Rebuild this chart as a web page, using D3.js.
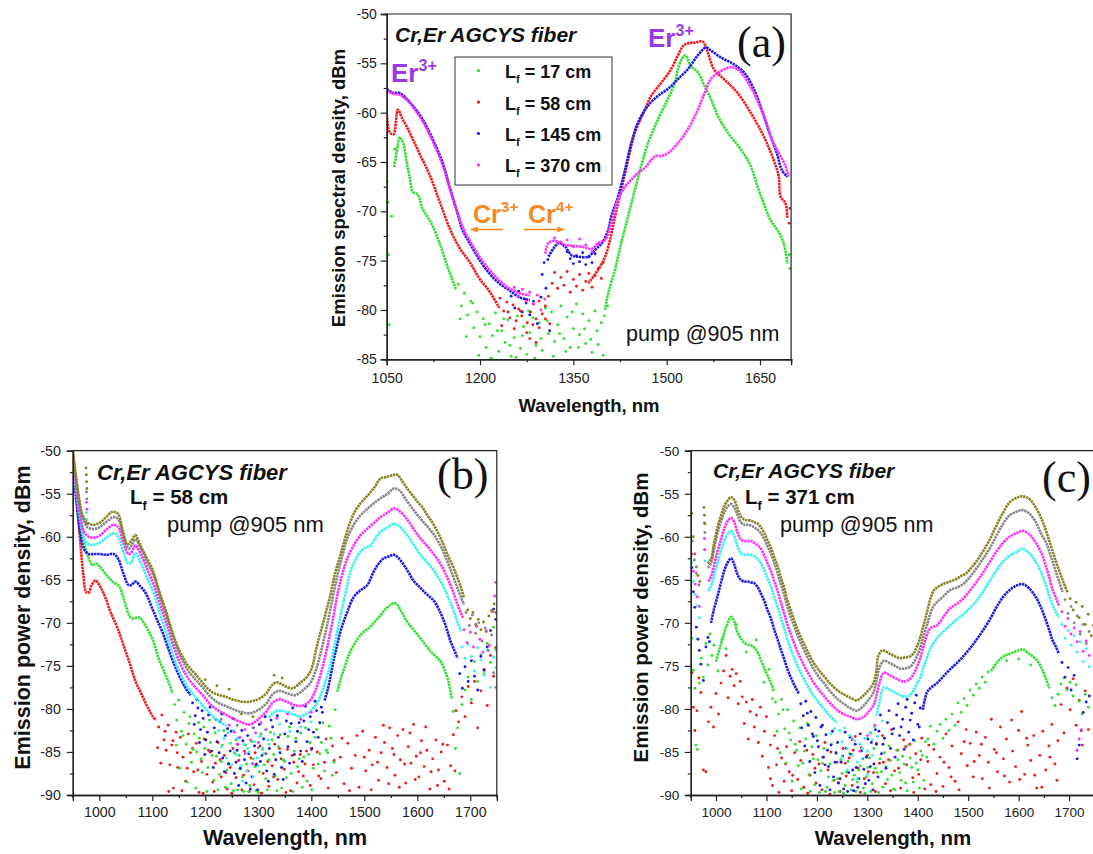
<!DOCTYPE html>
<html>
<head>
<meta charset="utf-8">
<script src="https://cdn.jsdelivr.net/npm/d3@7"></script>
<style>
  body { margin: 0; background: #fff; }
  svg { font-family: "Liberation Sans", Arial, sans-serif; }
</style>
</head>
<body>
<svg id="fig" width="1093" height="854"></svg>
<script>
// ---------- panel (a): Cr,Er AGCYS fiber, four fibre lengths ----------
const aLegend = ['17', '58', '145', '370'];

const aGreenLines = [
  [[1062,-65.5],[1066,-64],[1071,-62.5],[1077,-63.2],[1082,-65],[1087,-66.6],[1092,-68],[1100,-68.3],[1108,-69.8],[1116,-70.6],[1124,-71.5],[1135,-73.2],[1146,-75.3],[1154,-76.7],[1162,-78]],
  [[1401,-80],[1406,-78.3],[1417,-75.9],[1427,-73.2],[1438,-70.5],[1449,-67.8],[1459,-65.4],[1470,-63.1],[1486,-60.7],[1502,-58.6],[1513,-57],[1518,-55.6],[1524,-54.6],[1530,-54.2],[1539,-55.3],[1550,-55.9],[1561,-57.3],[1571,-58.6],[1582,-60.3],[1598,-62],[1619,-63.7],[1635,-65.4],[1646,-67.5],[1656,-69.2],[1667,-70.9],[1678,-71.9],[1688,-73.2],[1694,-75.3]]
];
const aGreenDots = [[1050,-65.2],[1051,-67],[1052,-69.1],[1053,-74.4],[1054,-81.5],[1058,-70.5],[1063,-63.7],
  [1165,-77.4],[1170,-79.6],[1175,-78.3],[1180,-80.5],[1185,-79.1],[1190,-81.8],[1195,-80.2],[1200,-82.7],[1205,-80.9],[1210,-83.8],[1215,-81.4],[1220,-82.6],[1225,-80.3],[1230,-84.2],[1235,-82.1],[1240,-83.3],[1245,-81],[1250,-84.7],[1255,-82.8],[1260,-80.6],[1265,-83.9],[1270,-81.7],[1275,-84.5],[1280,-82.3],[1285,-80.8],[1290,-83.6],[1295,-81.3],[1300,-84.1],[1305,-79.8],[1310,-82.4],[1315,-80.2],[1320,-83.2],[1325,-81.5],[1330,-79.6],[1335,-82.9],[1340,-80.7],[1345,-83.8],[1350,-81.9],[1355,-79.4],[1360,-82.5],[1365,-80.4],[1370,-83.4],[1375,-81.1],[1380,-84.3],[1385,-80.1],[1390,-83.5],[1395,-81.3],[1400,-80.6],[1405,-79.6],
  [1168,-80.9],[1178,-82.7],[1188,-79.3],[1198,-84.6],[1208,-81.5],[1218,-84.9],[1228,-82.1],[1238,-80.9],[1248,-83.6],[1258,-84.8],[1268,-82.6],[1278,-80.1],[1288,-84.9],[1298,-82.9],[1308,-81.1],[1318,-84.7],[1328,-82.4],[1338,-84.2],[1348,-80.2],[1358,-83.8],[1368,-81.9],[1378,-83],[1388,-82.1],[1398,-84.6],
  [1697,-74.4],[1698,-75.8]];

const aRedLines = [
  [[1050,-60.2],[1055,-62],[1061,-62.2],[1068,-59.7],[1075,-60.6],[1082,-61.4],[1092,-62.7],[1103,-64.2],[1119,-66.3],[1135,-69],[1151,-71.7],[1167,-73.7],[1183,-75.1],[1199,-76.8],[1215,-78.1],[1231,-79.8]],
  [[1374,-77.3],[1390,-75.9],[1401,-74.6],[1409,-72.9],[1417,-70.5],[1427,-67.8],[1438,-64.8],[1449,-62],[1465,-59.7],[1475,-58.3],[1491,-57],[1507,-55.6],[1518,-54.2],[1529,-53.1],[1545,-52.9],[1558,-52.8],[1566,-53.9],[1576,-55.6],[1592,-56.6],[1614,-58],[1635,-60],[1656,-62.4],[1672,-64.8],[1680,-66.4],[1683,-68.5],[1691,-69.2],[1694,-70.7]]
];
const aRedDots = [[1232,-78.8],[1238,-80.1],[1243,-79.2],[1248,-80.8],[1253,-79.5],[1258,-81.1],[1262,-79.9],[1267,-80.6],[1272,-78.9],[1276,-81.3],[1281,-80.2],[1286,-79.4],[1290,-80.9],[1295,-79.1],[1300,-80.4],[1305,-79.6],[1310,-78.6],[1312,-81.4],[1290,-83.3],[1280,-82.9],
  [1235,-81.6],[1245,-80.2],[1255,-81.9],[1265,-80.1],[1275,-82.3],[1285,-81.5],[1295,-81.8],[1305,-80.9],
  [1316,-77.3],[1320,-76.2],[1325,-77.8],[1330,-76.7],[1335,-77.5],[1340,-76.1],[1345,-78.2],[1350,-76.9],[1355,-77.6],[1360,-76.4],[1365,-78],[1370,-77.1],[1375,-76.3],[1380,-77.7],[1385,-76.5],[1390,-75.8],[1395,-76.8],[1398,-75.2],
  [1697,-71.2],[1698,-69.7]];

const aBlueLines = [
  [[1050,-57.6],[1061,-58],[1071,-58],[1082,-58.6],[1092,-59.3],[1108,-60.7],[1124,-62.7],[1140,-65.1],[1151,-67.5],[1162,-69.8],[1172,-71.9],[1183,-73.2],[1199,-74.9],[1215,-76.3],[1231,-77.3],[1247,-78],[1263,-78.7],[1280,-79]],
  [[1310,-74.6],[1320,-73.6],[1327,-73.2],[1337,-73.6],[1348,-74.5],[1358,-74.6],[1374,-74.6],[1385,-73.9],[1396,-73.2],[1406,-71.9],[1411,-70.5],[1422,-68.5],[1433,-65.8],[1443,-63.1],[1454,-61],[1470,-59.3],[1486,-58.3],[1502,-57.6],[1518,-56.6],[1534,-55.6],[1550,-54.2],[1563,-53.4],[1571,-53.7],[1587,-54.4],[1608,-55.1],[1624,-55.9],[1640,-57.6],[1656,-60.3],[1667,-62.4],[1677,-64.1],[1685,-65.8],[1694,-66.5]]
];
const aBlueDots = [[1250,-78.6],[1256,-79.8],[1262,-78.1],[1268,-80.2],[1274,-79.3],[1280,-80.5],[1286,-79.1],[1292,-81.4],[1298,-78.7],[1300,-76.4],[1303,-75.2],[1306,-77.8],[1309,-74.9],[1312,-82.1],
  [1340,-74.1],[1345,-74.8],[1350,-75.3],[1355,-74.5],[1360,-75.1],[1365,-74.2],[1370,-75.4],[1375,-74.6],[1380,-75.2],[1385,-74.3]];

const aMagentaLines = [
  [[1050,-57.8],[1061,-58.1],[1071,-58.2],[1082,-58.7],[1092,-59.4],[1108,-60.9],[1124,-62.9],[1140,-65.3],[1151,-67.6],[1162,-69.8],[1172,-71.6],[1183,-72.9],[1199,-74.6],[1215,-75.9],[1231,-77],[1247,-77.8],[1263,-78.3],[1280,-78.5]],
  [[1305,-74.3],[1310,-73.2],[1320,-73],[1335,-73.4],[1350,-73.5],[1365,-73.6],[1380,-73.8],[1390,-73.2],[1401,-72.9],[1411,-71.2],[1422,-68.8],[1433,-67.5],[1443,-66.8],[1454,-66.1],[1465,-65.6],[1475,-64.8],[1483,-64.4],[1491,-64.4],[1502,-64.1],[1518,-63.1],[1534,-61.7],[1550,-59.7],[1561,-58],[1571,-56.6],[1587,-55.8],[1603,-55.4],[1614,-55.6],[1624,-56.3],[1640,-58],[1656,-60.3],[1672,-63.1],[1683,-64.4],[1691,-65.4],[1696,-66.5]]
];
const aMagentaDots = [[1255,-77.7],[1262,-78.6],[1268,-77.9],[1274,-79.1],[1280,-78.2],[1286,-79.4],[1292,-78.5],[1298,-80],[1304,-78.9],
  [1320,-72.7],[1330,-73.1],[1340,-72.9],[1350,-73.6],[1360,-72.8],[1370,-73.4],[1380,-74.1],[1390,-73.3]];

// ---------- panel (b): L_f = 58 cm ----------
const bRedLines = [
  [[950,-50.2],[954,-53],[958,-56],[962,-59],[966,-62],[970,-64.5],[975,-66.4],[980,-66.5],[985,-65.7],[990,-65.2],[994,-65.1],[1000,-65.6],[1006,-66.3],[1013,-67.3],[1019,-68.4],[1025,-69.3],[1031,-70.1],[1038,-71.2],[1044,-72.3],[1050,-73.4],[1057,-74.6],[1063,-75.8],[1069,-76.9],[1076,-77.8],[1082,-78.6],[1088,-79.4],[1094,-80.1],[1100,-80.8],[1107,-81.3]]
];
const bRedDots = [[1112,-82.1],[1118,-80.7],[1122,-83.6],[1126,-84.8],[1130,-81.9],[1133,-86.5],[1137,-84.2],[1140,-89.2],[1145,-82.7],[1148,-86.8],[1153,-83.3],[1158,-85.6],[1163,-88.4],[1168,-82.9],[1172,-85.1],[1178,-87.3],[1183,-84],[1188,-89.7],[1193,-86.1],[1198,-83.5],[1203,-87.6],[1209,-85],[1214,-88.5],[1219,-86.3],[1224,-83.9],[1230,-87.9],[1236,-85.4],[1241,-89.3],[1247,-86.8],[1252,-84.6],[1258,-88],[1263,-86],[1269,-89.4],[1274,-84.9],[1280,-87.2],[1286,-85.7],[1292,-88.8],[1297,-86.4],[1303,-84.3],[1309,-87.5],[1314,-85.2],[1320,-89],[1326,-86.6],[1331,-84.1],[1337,-88.2],[1343,-85.8],[1349,-87],[1355,-84.7],[1361,-89.5],[1367,-86.2],[1373,-88.6],[1379,-85.3],[1385,-87.8],[1391,-84.9],[1398,-88.9],[1404,-86.5],[1411,-85],[1418,-88.1],[1425,-86.2],[1432,-89.2],[1440,-84.3],[1447,-87.4],[1455,-85.6],[1462,-88.7],[1469,-84],[1476,-86.9],[1483,-85.4],[1490,-89.1],[1497,-82.6],[1503,-87.2],[1509,-84.8],[1515,-86.5],[1521,-83.3],[1527,-88.3],[1532,-85.1],[1538,-83.9],[1543,-86.8],[1548,-82.2],[1553,-84.6],[1558,-87.7],[1563,-83.1],[1568,-85.9],[1573,-82.4],[1578,-88.6],[1583,-84.4],[1588,-86.3],[1593,-81.8],[1598,-85.5],[1603,-87.9],[1608,-83.7],[1613,-86.7],[1618,-84.8],[1624,-89.3],[1629,-85.8],[1635,-83.6],[1640,-87.1],[1645,-85],[1651,-88.4],[1657,-84.2],[1663,-86.6],[1668,-83],[1673,-80.2],[1678,-81.5],[1684,-78.6],[1690,-80.9],[1696,-77.4],[1702,-79.3],[1708,-76.8],[1714,-82.2],[1720,-77.9],[1726,-75.4],[1732,-79.6],[1738,-73.8],[1744,-76.2],[1748,-72.9],
  [1110,-84.5],[1116,-86.3],[1124,-82.6],[1131,-89.6],[1139,-83.7],[1147,-85.1],[1156,-89.5],[1166,-86.9],[1176,-84.6],[1186,-87.1],[1196,-89.8],[1206,-84.8],[1217,-89.6],[1228,-85.9],[1239,-87.4],[1250,-89.8],[1261,-84.1],[1272,-87.7],[1283,-89.6],[1294,-85.1],[1306,-89.8],[1318,-86.1],[1329,-87.9],[1340,-84.6],[1352,-89.7],[1364,-85.4],[1376,-87.3],[1388,-86.4],[1400,-84.7],[1414,-87.8],[1428,-83.5],[1443,-86],[1458,-83.4],[1472,-89.5],[1486,-83.1],[1500,-85.6],[1513,-89.4],[1525,-86.2],[1536,-81.9],[1546,-88.7],[1556,-85.3],[1566,-89.1],[1576,-86.4],[1586,-82.8],[1596,-88.2],[1606,-85.1],[1616,-82.1],[1626,-87.3],[1638,-88.9],[1648,-84.1],[1660,-89.3],[1671,-87.2]];

const bGreenLines = [
  [[955,-53.5],[960,-56],[966,-58.5],[972,-60.8],[980,-62.5],[987,-63.3],[994,-63.1],[1000,-63.4],[1013,-64.4],[1025,-65.2],[1038,-65.8],[1044,-66.8],[1050,-68],[1057,-69.2],[1063,-69.5],[1070,-69.4],[1076,-69.4],[1082,-69.8],[1088,-70.4],[1095,-71.2],[1101,-72],[1107,-73.1],[1113,-74.3],[1120,-75.3],[1126,-76.2],[1132,-77.1],[1138,-78.2]],
  [[1449,-78],[1455,-76.6],[1462,-75.3],[1468,-74.2],[1474,-73.3],[1483,-72.3],[1493,-71.4],[1502,-70.9],[1512,-70.4],[1521,-69.8],[1531,-69.1],[1540,-68.4],[1550,-67.9],[1556,-67.7],[1562,-67.9],[1571,-68.8],[1581,-69.9],[1593,-70.8],[1606,-71.8],[1616,-72.6],[1625,-73.3],[1635,-73.9],[1644,-74.5],[1651,-75.4],[1657,-76.4],[1661,-77.5],[1665,-78.8]]
];
const bGreenDots = [[1142,-79.5],[1146,-81.3],[1150,-79],[1155,-82.6],[1160,-80.4],[1164,-84.1],[1169,-81.7],[1174,-86.2],[1179,-82.9],[1184,-85],[1189,-83.4],[1194,-87.4],[1199,-84.6],[1205,-86.8],[1210,-83.9],[1216,-88.3],[1221,-85.5],[1227,-87.6],[1232,-84.2],[1238,-89.1],[1244,-86.3],[1249,-88.7],[1255,-85.1],[1261,-89.4],[1266,-87],[1272,-89.6],[1278,-86.4],[1284,-88.9],[1290,-85.8],[1296,-89.5],[1302,-87.3],[1308,-84.7],[1314,-88.1],[1320,-85.9],[1326,-83.6],[1332,-87.8],[1338,-84.4],[1344,-89.2],[1350,-86.1],[1356,-83.2],[1362,-87.5],[1368,-84.9],[1374,-86.7],[1380,-82.8],[1386,-85.6],[1392,-88.4],[1398,-83.9],[1404,-86.9],[1410,-82.4],[1416,-85.2],[1422,-81.6],[1428,-84.8],[1434,-82],[1440,-87.7],[1445,-80.1],
  [1145,-84.2],[1152,-86.9],[1158,-83.1],[1166,-88.5],[1171,-80.9],[1177,-84.7],[1182,-89.2],[1187,-81.6],[1192,-85.8],[1197,-82.1],[1203,-89.6],[1208,-81.3],[1213,-85.4],[1219,-82.8],[1224,-89.4],[1230,-86.1],[1235,-82.5],[1241,-87.1],[1247,-84],[1253,-89.5],[1258,-83.6],[1264,-85.4],[1270,-87.9],[1276,-84.2],[1282,-89.6],[1288,-83.8],[1294,-86.7],[1300,-89.7],[1305,-82.9],[1311,-86.5],[1317,-89.4],[1323,-82.7],[1329,-85.3],[1335,-89.5],[1341,-83],[1347,-85.9],[1353,-88],[1359,-82.1],[1365,-89.6],[1371,-83.4],[1377,-85.8],[1383,-89.1],[1389,-82.2],[1395,-85.3],[1401,-89.4],[1407,-83.3],[1413,-86.4],[1419,-83.9],[1425,-87.2],[1431,-85.1],[1437,-83.4],[1443,-86.2],
  [1668,-80.3],[1672,-84.6],[1676,-82.2],[1680,-87.5],[1684,-79.5],[1690,-77.8],[1696,-76.3],[1702,-78.9],[1708,-74.5],[1714,-76.8],[1720,-73.7],[1726,-75.9],[1732,-72.4],[1738,-74.6],[1744,-70.5],[1748,-73.1]];

const bBlueLines = [
  [[950,-51.8],[957,-56],[964,-59.5],[971,-61.4],[980,-62],[990,-62],[1000,-62],[1013,-62.1],[1027,-62],[1036,-62.6],[1045,-64.2],[1055,-65.6],[1061,-65.6],[1068,-65.2],[1078,-65.8],[1088,-66.6],[1101,-68.5],[1110,-69.8],[1120,-71.2],[1129,-72.8],[1138,-74.3],[1151,-76.2],[1162,-77.5],[1172,-78.4]],
  [[1425,-79],[1430,-78],[1437,-76],[1443,-74.1],[1449,-72.5],[1455,-71],[1462,-69.7],[1468,-68.7],[1480,-67],[1493,-66.2],[1506,-65.6],[1515,-64.4],[1525,-63.3],[1537,-62.5],[1546,-62.3],[1556,-62.1],[1565,-62.5],[1575,-63.3],[1585,-64.3],[1594,-65.2],[1604,-65.8],[1613,-66.4],[1622,-66.9],[1632,-67.5],[1642,-68.6],[1651,-69.9],[1657,-71],[1663,-72.2],[1670,-73.2],[1676,-74.1]]
];
const bBlueDots = [[976,-58.5],[1176,-79.3],[1181,-80.8],[1186,-79.9],[1191,-82.4],[1196,-81.1],[1201,-83.6],[1206,-80.7],[1212,-84.9],[1217,-82.2],[1222,-83.8],[1228,-81.5],[1233,-85.7],[1238,-83.1],[1244,-86.4],[1249,-82.6],[1255,-87.5],[1260,-84.8],[1266,-86.9],[1271,-83.7],[1277,-88.6],[1282,-85.2],[1288,-87.9],[1293,-84.3],[1299,-89.4],[1304,-86.1],[1310,-83.5],[1316,-87.2],[1321,-84.6],[1327,-82.1],[1333,-85.9],[1338,-83.3],[1344,-86.8],[1350,-82.9],[1356,-84.4],[1362,-81.7],[1368,-85.3],[1374,-82.6],[1380,-84.9],[1386,-81.4],[1392,-83.8],[1398,-80.9],[1404,-82.7],[1410,-80.2],[1416,-81.6],[1421,-80.4],
  [1179,-81.8],[1184,-78.9],[1189,-83.9],[1194,-80.2],[1199,-85.3],[1204,-82.7],[1209,-79.8],[1215,-86.8],[1220,-81.2],[1226,-85.1],[1231,-80.6],[1236,-87.3],[1242,-82.3],[1247,-84.9],[1252,-81.1],[1258,-86.2],[1263,-88.9],[1269,-82.5],[1274,-85.9],[1280,-83.1],[1285,-89.3],[1291,-82.2],[1296,-86.5],[1302,-81.8],[1307,-85.4],[1313,-80.9],[1319,-88.4],[1324,-81.3],[1330,-87.6],[1336,-80.8],[1341,-85.1],[1347,-88.2],[1353,-81.4],[1359,-86.3],[1365,-79.9],[1371,-83.8],[1377,-81.6],[1383,-86.1],[1389,-79.7],[1395,-82.4],[1401,-84.6],[1407,-79.1],[1413,-83.3],[1419,-79.8],
  [1680,-75.9],[1685,-77.6],[1690,-75.1],[1696,-76.8],[1702,-74.4],[1708,-76.2],[1714,-77.8],[1720,-73.9],[1726,-75.5],[1732,-72.8],[1738,-70.9],[1744,-68.4],[1748,-69.6]];

const bCyanLines = [
  [[950,-51.3],[957,-55],[964,-58.2],[971,-60.2],[980,-60.9],[990,-60.9],[1000,-60.7],[1013,-60.1],[1027,-59.6],[1036,-60],[1045,-61.7],[1055,-63.1],[1061,-62.9],[1068,-61.9],[1078,-63],[1090,-64.7],[1103,-66.6],[1115,-69],[1128,-71.5],[1140,-73.9],[1153,-75.9],[1166,-77.4],[1180,-78.5],[1195,-79.6],[1210,-80.6],[1225,-81.4],[1240,-82]],
  [[1320,-81],[1335,-80.2],[1350,-80.3],[1365,-80.6],[1380,-80.9],[1395,-80.4],[1408,-79.6],[1418,-78.4],[1428,-76.5],[1436,-74.9],[1443,-72.8],[1449,-71],[1455,-69.2],[1461,-67.5],[1468,-65.6],[1474,-64],[1483,-62.7],[1493,-61.7],[1502,-61.3],[1512,-61],[1521,-60.2],[1531,-59.4],[1544,-58.9],[1556,-58.5],[1566,-58.8],[1581,-59.8],[1593,-60.9],[1606,-62.1],[1619,-63],[1632,-64],[1641,-64.9],[1651,-66],[1660,-67.3],[1669,-68.7],[1676,-69.9],[1682,-71]]
];
const bCyanDots = [[976,-57.2],[976.5,-58],[1225,-82.5],[1235,-83.4],[1243,-82.8],[1248,-84],[1253,-82.5],[1258,-85.3],[1263,-83.4],[1268,-86.6],[1273,-84.1],[1278,-87.2],[1283,-85],[1288,-86.3],[1293,-83.8],[1298,-85.7],[1303,-83.2],[1308,-84.5],[1313,-82.4],[1318,-83.6],
  [1230,-84.4],[1240,-85.7],[1250,-86.5],[1260,-83.4],[1270,-88.4],[1280,-84.6],[1290,-87.9],[1300,-86.6],[1310,-85.2],[1320,-84.1],[1330,-82.9],[1340,-81.8],[1360,-82.6],[1380,-82.1],[1400,-81.5],
  [1684,-72.8],[1690,-74.1],[1696,-72.5],[1702,-73.9],[1708,-75.6],[1714,-72.9],[1720,-74.3],[1726,-76.1],[1732,-73.2],[1738,-77.5],[1744,-74],[1748,-75.2]];

const bMagentaLines = [
  [[950,-50.8],[957,-54.5],[964,-57.5],[971,-59.4],[980,-60],[990,-60.1],[1000,-59.9],[1013,-59.2],[1027,-58.6],[1036,-58.9],[1045,-60.6],[1055,-62],[1061,-61.8],[1068,-61],[1078,-62],[1090,-63.7],[1103,-65.6],[1115,-67.9],[1128,-70.3],[1140,-72.7],[1153,-74.8],[1166,-76.3],[1180,-77.4],[1195,-78.4],[1210,-79.5],[1225,-80.2],[1240,-80.7],[1255,-81.2],[1270,-81.6],[1285,-81.8],[1300,-81.2],[1315,-80.3],[1327,-79.3],[1340,-78.9],[1355,-79.2],[1370,-79.6],[1385,-79.6],[1398,-79],[1408,-77.8],[1418,-75.9],[1428,-73.4],[1440,-69.8],[1450,-66.5],[1460,-64],[1468,-62.5],[1480,-61],[1493,-59.8],[1505,-59.1],[1518,-58.4],[1531,-57.7],[1544,-57.2],[1556,-56.7],[1566,-57],[1581,-58],[1593,-59.1],[1606,-60.2],[1619,-61.1],[1632,-62.1],[1645,-63.3],[1657,-64.8],[1667,-66.3],[1676,-67.9],[1686,-69.4]]
];
const bMagentaDots = [[976,-56],[976.5,-56.8],[1245,-81.9],[1255,-82.7],[1265,-83.3],[1275,-82.4],[1285,-83.6],[1295,-82.8],[1305,-81.6],
  [1260,-84.1],[1275,-85.2],[1290,-86.4],[1300,-83.9],[1315,-82.4],[1335,-81.1],[1355,-80.6],[1380,-81.2],[1400,-80.4],
  [1688,-70.8],[1694,-72.3],[1700,-71.1],[1706,-72.8],[1712,-70.4],[1718,-71.9],[1724,-73.4],[1730,-70.9],[1736,-72.6],[1742,-68.7],[1746,-66.9],[1748,-65.3]];

const bGrayLines = [
  [[950,-50.3],[957,-53.6],[963,-56.2],[970,-58],[978,-58.9],[990,-59.1],[1000,-58.9],[1013,-58.3],[1027,-57.7],[1036,-58],[1045,-59.8],[1055,-61.4],[1061,-61],[1068,-60.3],[1078,-61.3],[1090,-62.9],[1103,-64.6],[1115,-67],[1128,-69.4],[1140,-71.9],[1153,-73.9],[1166,-75.4],[1180,-76.5],[1195,-77.5],[1210,-78.6],[1225,-79.3],[1240,-79.7],[1255,-80.1],[1270,-80.4],[1285,-80.5],[1300,-80.1],[1315,-79.4],[1327,-78.3],[1340,-77.9],[1355,-78.2],[1370,-78.4],[1385,-77.8],[1398,-77],[1408,-75.6],[1418,-73.4],[1428,-70.8],[1440,-67.2],[1450,-64.3],[1460,-61.9],[1468,-60.2],[1480,-58.6],[1493,-57.5],[1505,-56.8],[1518,-56.1],[1531,-55.5],[1544,-55],[1556,-54.4],[1566,-54.6],[1581,-55.9],[1593,-56.9],[1606,-57.9],[1619,-58.8],[1632,-59.8],[1645,-61.2],[1657,-62.9],[1667,-64.5],[1676,-66],[1688,-67.9]]
];
const bGrayDots = [[976,-54.8],[976.5,-55.6],[1230,-81.2],[1260,-81.9],[1290,-82.2],[1300,-84.5],
  [1692,-68.8],[1698,-70.3],[1704,-69.1],[1710,-71.2],[1716,-70],[1722,-72.1],[1728,-70.6],[1734,-73.2],[1740,-71.4],[1744,-75.8],[1748,-77.5]];

const bOliveLines = [
  [[950,-50],[956,-53],[962,-55.6],[968,-57.4],[976,-58.3],[987,-58.6],[1000,-58.4],[1013,-57.7],[1025,-57.1],[1035,-57.3],[1044,-59.2],[1053,-60.9],[1060,-60.5],[1068,-59.8],[1076,-60.8],[1088,-62.3],[1101,-63.9],[1113,-66.3],[1126,-68.7],[1138,-71.1],[1151,-73.2],[1164,-74.7],[1176,-75.6],[1189,-76.5],[1201,-77.4],[1214,-78.1],[1227,-78.4],[1239,-78.6],[1252,-78.9],[1264,-79.1],[1277,-79.2],[1289,-79.1],[1302,-78.8],[1315,-78.2],[1325,-77.3],[1334,-76.9],[1343,-77.1],[1352,-77.4],[1365,-77.6],[1378,-77],[1390,-76.4],[1400,-75.4],[1411,-72.6],[1423,-69.8],[1436,-66.8],[1445,-64.2],[1455,-62.1],[1465,-59.9],[1474,-58.2],[1483,-57],[1493,-56.1],[1502,-55.5],[1512,-54.8],[1521,-54.1],[1531,-53.2],[1540,-53.1],[1550,-52.9],[1562,-52.8],[1571,-53.5],[1581,-54.4],[1590,-55.1],[1600,-55.9],[1610,-56.6],[1619,-57.5],[1628,-58.3],[1638,-59.4],[1648,-60.7],[1657,-62.1],[1667,-63.4],[1676,-64.8],[1683,-66],[1688,-67.1]]
];
const bOliveDots = [[975,-52],[975.5,-52.8],[976,-53.6],[976.5,-54.4],[1200,-76.6],[1222,-77.3],[1245,-77.7],[1268,-80.6],[1290,-80.9],[1330,-76.1],[1345,-76.4],
  [1695,-68.5],[1700,-69.5],[1705,-68.8],[1710,-70.2],[1715,-69.6],[1720,-70.8],[1725,-69.9],[1730,-71],[1735,-69.2],[1740,-68.6],[1745,-67.8],[1748,-68.8]];

// ---------- panel (c): L_f = 371 cm ----------
const cRedLines = [];
const cRedDots = [[952,-75.8],[955,-79.8],[958,-82.5],[962,-80.2],[966,-76.4],[970,-78.1],[975,-87.1],[980,-87.3],[985,-81.5],[990,-79.8],[995,-82.1],[1000,-78.2],[1005,-80.6],[1010,-77],[1015,-75.6],[1020,-73.8],[1024,-78.7],[1028,-76.2],[1032,-75.4],[1036,-77.3],[1040,-75.9],[1044,-79.4],[1048,-76.8],[1052,-78.6],[1056,-81.7],[1060,-79.2],[1064,-83.5],[1068,-80.3],[1072,-78.9],[1076,-82.1],[1080,-80.7],[1084,-83.9],[1088,-79.8],[1092,-85.5],[1096,-82.6],[1100,-80.9],[1104,-86.8],[1108,-84.2],[1112,-88.9],[1116,-83.1],[1120,-86.5],[1125,-89.7],[1130,-85.7],[1135,-88.4],[1140,-84.4],[1145,-87.3],[1150,-89.5],[1156,-85.1],[1162,-88.2],[1168,-86],[1174,-89.1],[1180,-84.8],[1186,-87.7],[1192,-85.3],[1198,-88.6],[1204,-86.4],[1210,-89.4],[1216,-83.9],[1222,-87.1],[1228,-85],[1234,-88.3],[1240,-86.2],[1246,-89.6],[1252,-84.6],[1258,-87.8],[1264,-85.7],[1270,-88.9],[1276,-83.2],[1282,-86.9],[1288,-84.5],[1294,-88.1],[1300,-85.4],[1306,-82.8],[1312,-87.4],[1318,-84],[1324,-86.3],[1330,-83.1],[1336,-88.7],[1342,-85.9],[1348,-82.4],[1354,-87.2],[1360,-84.8],[1366,-89.2],[1372,-83.6],[1378,-86.5],[1384,-84.1],[1390,-88],[1396,-85.2],[1402,-87.6],[1408,-83.4],[1414,-89.3],[1420,-86.1],[1426,-88.8],[1432,-84.7],[1438,-87.5],[1444,-85.6],[1450,-89],[1456,-82.9],[1462,-86.8],[1468,-84.3],[1474,-88.4],[1480,-81.5],[1486,-85.2],[1492,-83.8],[1498,-86.6],[1504,-84],[1510,-87.9],[1516,-82.7],[1522,-85.4],[1528,-88.1],[1534,-83.3],[1540,-86.2],[1546,-81.2],[1552,-84.7],[1558,-87.3],[1564,-82.1],[1570,-85.8],[1576,-83.5],[1582,-88.5],[1588,-84.9],[1594,-86.7],[1600,-82.5],[1606,-80.3],[1612,-87.6],[1618,-84.2],[1624,-86],[1630,-83.1],[1636,-89.2],[1642,-85.4],[1648,-82.6],[1654,-87.1],[1660,-84.3],[1666,-81.8],[1672,-86.4],[1678,-83.7],[1684,-79.5],[1690,-82.8],[1696,-77.6],[1702,-80.1],[1708,-76.5],[1714,-81.9],[1720,-79],[1726,-84.2],[1732,-77.9],[1738,-82.4],
  [1108,-88.1],[1122,-84.6],[1138,-86.4],[1152,-87.7],[1166,-83.8],[1182,-89.8],[1196,-86.9],[1212,-85.6],[1226,-89.9],[1242,-88.6],[1256,-86.3],[1272,-84.8],[1286,-89.7],[1302,-87.3],[1316,-89.6],[1332,-86.2],[1346,-89.5],[1362,-86.9],[1376,-84.4],[1392,-89.7],[1406,-85.9],[1422,-84.2],[1436,-89.6],[1452,-86.2],[1466,-87.9],[1482,-89.4],[1496,-82.4],[1512,-86.1],[1526,-84.1],[1542,-89.2],[1556,-85.1],[1572,-87.8],[1586,-81.3],[1602,-88.2],[1616,-83.4],[1632,-87.7],[1646,-89.1],[1662,-85.6],[1676,-88.3]];

const cGreenLines = [
  [[1000,-74.5],[1008,-72.8],[1015,-71.4],[1022,-70.2],[1030,-69.3],[1036,-69.8],[1042,-71],[1049,-71.8],[1056,-72.3],[1062,-72.5],[1069,-72.6],[1076,-72.9],[1083,-73.5],[1089,-74.3],[1096,-75.3],[1102,-76.1],[1109,-77],[1115,-78]],
  [[1545,-75.6],[1552,-75],[1560,-74.4],[1570,-73.9],[1582,-73.6],[1595,-73.3],[1608,-73.1],[1621,-73.6],[1634,-74.2],[1645,-75.2],[1654,-76.5],[1661,-77.6]]
];
const cGreenDots = [[952,-71.8],[955,-75.5],[958,-77.6],[960,-84.2],[963,-84.7],[967,-77],[971,-74.1],[975,-76.3],[980,-72.4],[984,-74.9],[988,-71.3],[992,-73.8],[996,-72.6],[1004,-75.6],[1012,-71.9],[1020,-73],[1040,-70.2],[1060,-73.4],[1080,-72],[1095,-76.9],[1105,-75.4],[1112,-78.8],
  [1118,-79.2],[1124,-80.6],[1130,-78.9],[1136,-82.3],[1142,-80.1],[1148,-83.6],[1154,-81.4],[1160,-84.8],[1166,-82.2],[1172,-86.3],[1178,-83.5],[1184,-87.6],[1190,-84.4],[1196,-88.8],[1202,-85.9],[1208,-87.2],[1214,-84.6],[1220,-89.1],[1226,-86.4],[1232,-88.3],[1238,-85.2],[1244,-89.6],[1250,-87.5],[1256,-88.9],[1262,-86.1],[1268,-89.4],[1274,-87.7],[1280,-88.5],[1286,-86.6],[1292,-89.2],[1298,-87.9],[1304,-85.7],[1310,-88.7],[1316,-86.9],[1322,-89.7],[1328,-87.3],[1334,-85.1],[1340,-88.2],[1346,-86],[1352,-89.3],[1358,-84.8],[1364,-87.4],[1370,-85.5],[1376,-88.6],[1382,-84.2],[1388,-86.8],[1394,-83.7],[1400,-87.1],[1406,-84.9],[1412,-88.3],[1418,-85.6],
  [1121,-82.6],[1127,-85.1],[1133,-80.1],[1139,-86.3],[1145,-82.8],[1151,-88.4],[1157,-84.1],[1163,-86.6],[1169,-89.3],[1175,-84.9],[1181,-81.7],[1187,-89.6],[1193,-85.8],[1199,-83.1],[1205,-89.7],[1211,-86.3],[1217,-89.6],[1223,-87.9],[1229,-84.1],[1235,-89.7],[1241,-88.1],[1247,-85.9],[1253,-89.8],[1259,-87.3],[1265,-85.2],[1271,-88.2],[1277,-89.6],[1283,-87.1],[1289,-84.8],[1295,-89.8],[1301,-86.8],[1307,-89.6],[1313,-84.6],[1319,-87.4],[1325,-85.8],[1331,-89.1],[1337,-86.7],[1343,-84.3],[1349,-87.7],[1355,-89.4],[1361,-85.9],[1367,-88.3],[1373,-86.4],[1379,-89.5],[1385,-85.7],[1391,-88.5],[1397,-86.3],[1403,-89.2],[1409,-85.4],[1415,-83.8],
  [1420,-83.5],[1425,-82],[1432,-84.1],[1438,-82.6],[1444,-81.8],[1450,-83.4],[1456,-81.2],[1462,-82.5],[1468,-80.6],[1474,-81.9],[1480,-79.3],[1486,-80.4],[1492,-78.8],[1498,-79.6],[1504,-77.8],[1510,-78.4],[1516,-77.1],[1522,-77.6],[1528,-76.3],[1534,-76.9],[1540,-75.7],[1576,-74.4],[1600,-74.2],[1624,-74.9],[1666,-78.7],[1672,-79.6],[1678,-78.3],[1684,-77.1],[1690,-76.4],[1696,-77.8],[1702,-76.9],[1708,-78.5],[1714,-77.2],[1720,-79.1],[1726,-80.6],[1732,-78.3],[1738,-79.8]];

const cBlueLines = [
  [[990,-70],[996,-68.4],[1003,-66.9],[1010,-65.3],[1016,-64],[1023,-63],[1030,-62.5],[1036,-63.2],[1042,-64.3],[1049,-65],[1056,-65.2],[1062,-65.2],[1069,-65.3],[1076,-65.4],[1083,-65.9],[1089,-66.6],[1096,-67.5],[1102,-68.5],[1109,-69.5],[1115,-70.7],[1122,-71.9],[1128,-73],[1135,-74.2],[1141,-75.3],[1148,-76.3],[1155,-77.2],[1164,-78.2]],
  [[1410,-80.1],[1418,-78.1],[1425,-77.6],[1438,-77],[1451,-76.2],[1464,-75.4],[1477,-74.7],[1490,-73.9],[1503,-73],[1516,-72],[1529,-70.9],[1542,-69.7],[1555,-68.3],[1569,-67],[1582,-66.2],[1595,-65.7],[1608,-65.5],[1621,-66],[1634,-67],[1645,-68.3],[1654,-69.7],[1661,-70.9],[1667,-72],[1674,-72.8],[1680,-73.6]]
];
const cBlueDots = [[952,-63.6],[955,-66.4],[958,-68.2],[961,-70.5],[964,-71.9],[967,-73.2],[970,-74.8],[975,-76.7],[980,-72.8],[984,-71.7],[987,-72.2],
  [1168,-79.4],[1173,-80.8],[1178,-79.1],[1183,-81.9],[1188,-80.3],[1193,-83.2],[1198,-81],[1203,-84.4],[1208,-82.1],[1213,-85.6],[1218,-83],[1223,-86.7],[1228,-84.2],[1233,-87.9],[1238,-85.1],[1243,-88.6],[1248,-86.2],[1253,-89.3],[1258,-84.6],[1263,-87.4],[1268,-85.3],[1273,-89.5],[1278,-86.8],[1283,-88.1],[1288,-84.9],[1293,-87],[1298,-85.6],[1303,-88.3],[1308,-83.9],[1313,-86.4],[1318,-84.1],[1323,-82.6],[1328,-85.2],[1334,-83.4],[1340,-81.6],[1346,-84.6],[1352,-82.3],[1358,-80.7],[1364,-83.1],[1370,-81.2],[1376,-79.8],[1382,-82.7],[1388,-80.5],[1394,-79.3],[1400,-81.8],[1405,-79.9],
  [1170,-82.2],[1176,-84.3],[1181,-80.5],[1186,-86.1],[1191,-82.9],[1196,-87.4],[1201,-83.7],[1206,-88.9],[1211,-81.9],[1216,-86.5],[1221,-84.8],[1226,-89.4],[1231,-82.6],[1236,-86.2],[1241,-83.9],[1246,-88.1],[1251,-85.5],[1256,-82.7],[1261,-89.6],[1266,-83.3],[1271,-87.1],[1276,-84.1],[1281,-89.1],[1286,-82.9],[1291,-85.8],[1296,-88.7],[1301,-83.5],[1306,-86.7],[1311,-89.4],[1316,-82.4],[1321,-87.9],[1326,-80.7],[1331,-84.1],[1337,-86.9],[1343,-80.2],[1349,-82.9],[1355,-85.6],[1361,-79.4],[1367,-82.1],[1373,-84.7],[1379,-78.9],[1385,-81.3],[1391,-83.6],[1397,-78.4],[1403,-82.1],
  [1686,-74.6],[1692,-76.3],[1698,-75.2],[1704,-77.8],[1710,-76.1],[1716,-85.8],[1720,-84.2],[1724,-82.5],[1728,-80.4],[1734,-79.2],[1740,-78.5]];

const cCyanLines = [
  [[985,-66.3],[991,-65.5],[997,-64.3],[1003,-63],[1010,-61.6],[1016,-60.5],[1023,-59.7],[1030,-59.3],[1036,-59.9],[1042,-61],[1049,-61.9],[1056,-62.1],[1062,-62.1],[1069,-62.1],[1076,-62.3],[1083,-62.6],[1089,-63.1],[1096,-63.9],[1102,-64.8],[1109,-65.8],[1115,-66.9],[1122,-68.1],[1128,-69.3],[1135,-70.6],[1141,-71.8],[1148,-73],[1155,-74.1],[1164,-75.3],[1174,-76.5],[1184,-77.6],[1194,-78.5],[1204,-79.3],[1214,-80],[1227,-80.9],[1240,-81.6]],
  [[1318,-80.8],[1324,-79.2],[1333,-77.5],[1345,-77.8],[1355,-78.1],[1365,-78.4],[1375,-78.6],[1385,-78.4],[1393,-77.7],[1399,-77],[1405,-76.4],[1411,-75.2],[1418,-74.1],[1425,-73],[1438,-71.8],[1451,-71],[1464,-70.3],[1477,-69.6],[1490,-69],[1503,-68.3],[1516,-67.5],[1529,-66.4],[1542,-65.2],[1555,-64],[1569,-62.9],[1582,-62.2],[1595,-61.8],[1608,-61.4],[1621,-61.9],[1634,-62.9],[1645,-64.2],[1654,-65.6],[1661,-66.9],[1667,-67.9],[1674,-68.8],[1680,-69.4]]
];
const cCyanDots = [[952,-63],[955,-65.2],[959,-66.7],[963,-68],[967,-69.4],[977,-61.5],[978,-62.8],
  [1228,-82.9],[1235,-82.3],[1245,-82.5],[1250,-83.8],[1255,-82.2],[1260,-84.6],[1265,-83.1],[1270,-85.4],[1275,-83.7],[1280,-86.2],[1285,-84.1],[1290,-85.8],[1295,-83.4],[1300,-84.9],[1305,-82.8],[1310,-83.6],[1314,-82.1],
  [1250,-85.6],[1260,-87.1],[1270,-83.4],[1280,-88.1],[1290,-84.6],[1300,-87.6],[1310,-85.4],[1320,-83.2],[1330,-81.4],
  [1686,-70.2],[1692,-71.8],[1698,-70.9],[1704,-72.6],[1710,-71.5],[1716,-73.4],[1722,-72.2],[1728,-74.5],[1734,-73],[1740,-75.1]];

const cMagentaLines = [
  [[985,-65.2],[991,-64.5],[997,-63.1],[1003,-61.7],[1010,-60.3],[1016,-59.1],[1023,-58.2],[1030,-57.8],[1036,-58.3],[1042,-59.4],[1049,-60.3],[1056,-60.5],[1062,-60.5],[1069,-60.5],[1076,-60.7],[1083,-61],[1089,-61.4],[1096,-62.2],[1102,-63.1],[1109,-64],[1115,-65.1],[1122,-66.3],[1128,-67.5],[1135,-68.9],[1141,-70.1],[1148,-71.3],[1155,-72.4],[1164,-73.7],[1174,-74.9],[1184,-76],[1194,-77],[1204,-77.8],[1214,-78.5],[1227,-79.4],[1240,-80.1],[1253,-80.6],[1266,-80.9],[1279,-81.2],[1293,-80.9],[1303,-80.3],[1312,-79.6],[1318,-78.5],[1324,-77],[1333,-75.8],[1345,-76.1],[1355,-76.4],[1365,-76.7],[1375,-76.8],[1385,-76.5],[1393,-75.8],[1399,-75],[1405,-74.1],[1411,-72.8],[1418,-71.4],[1425,-70.6],[1438,-70.3],[1451,-69.3],[1464,-68.3],[1477,-67.8],[1490,-67.2],[1503,-66.3],[1516,-65.3],[1529,-64.2],[1542,-63],[1555,-61.8],[1569,-60.7],[1582,-60],[1595,-59.6],[1608,-59.3],[1621,-59.7],[1634,-60.7],[1645,-61.9],[1654,-63.4],[1661,-64.8],[1667,-66.1],[1674,-67.1],[1680,-68]]
];
const cMagentaDots = [[952,-62],[955,-64],[959,-65.5],[963,-67],[967,-68.1],[977,-60.2],[978,-61.5],
  [1270,-83.6],[1285,-84.9],[1300,-83.1],[1315,-81.9],
  [1686,-68.7],[1692,-70.4],[1698,-69.5],[1704,-71.3],[1710,-70.6],[1716,-72.2],[1722,-71],[1728,-73.3],[1734,-72.1],[1740,-73.8],[1716,-84.8],[1720,-83.5],[1724,-82.4]];

const cGrayLines = [
  [[984,-63.6],[990,-63.1],[996,-61.4],[1003,-59.6],[1010,-58.2],[1016,-57.2],[1023,-56.5],[1030,-56.2],[1036,-56.6],[1042,-57.4],[1049,-58.3],[1056,-58.6],[1062,-58.6],[1069,-58.7],[1076,-58.9],[1083,-59.2],[1089,-59.6],[1096,-60.3],[1102,-61.1],[1109,-62],[1115,-63],[1122,-64.2],[1128,-65.4],[1135,-66.7],[1141,-68],[1148,-69.3],[1155,-70.4],[1164,-71.8],[1174,-73.1],[1184,-74.3],[1194,-75.4],[1204,-76.3],[1214,-77],[1227,-78],[1240,-78.8],[1253,-79.4],[1266,-79.9],[1279,-80.2],[1293,-79.6],[1303,-78.9],[1312,-78.1],[1318,-76.8],[1324,-75.2],[1333,-74.4],[1345,-74.7],[1355,-75],[1365,-75.3],[1375,-75.3],[1385,-75.1],[1393,-74.5],[1399,-73.8],[1405,-72.9],[1411,-71.6],[1418,-70.3],[1425,-68.9],[1431,-68.1],[1438,-67.6],[1451,-66.9],[1464,-66.2],[1477,-65.9],[1490,-65.5],[1503,-64.7],[1516,-63.7],[1529,-62.6],[1542,-61.4],[1555,-60],[1569,-58.5],[1582,-57.5],[1595,-57.1],[1608,-56.9],[1621,-57.3],[1634,-58.3],[1645,-59.7],[1654,-60.6],[1664,-62.3],[1674,-64.1],[1681,-65.3],[1687,-66.4]]
];
const cGrayDots = [[953,-60.5],[957,-62.7],[961,-64.2],[966,-65.6],[977,-58.4],[978,-59.5],
  [1692,-67.3],[1698,-68.9],[1704,-68.1],[1710,-70],[1716,-69.2],[1722,-71.3],[1728,-70.2],[1734,-72.4],[1740,-71]];

const cOliveLines = [
  [[983,-63.1],[990,-62.6],[996,-60.8],[1003,-58.9],[1010,-57.5],[1016,-56.5],[1023,-55.8],[1030,-55.4],[1036,-55.7],[1042,-56.6],[1049,-57.6],[1056,-58],[1062,-58.1],[1069,-58.1],[1076,-58.3],[1083,-58.5],[1089,-58.9],[1096,-59.6],[1102,-60.4],[1109,-61.3],[1115,-62.3],[1122,-63.4],[1128,-64.6],[1135,-65.9],[1141,-67.3],[1148,-68.5],[1155,-69.7],[1164,-71.1],[1174,-72.4],[1184,-73.6],[1194,-74.7],[1204,-75.5],[1214,-76.2],[1227,-77.1],[1240,-77.8],[1253,-78.3],[1266,-78.7],[1279,-79],[1293,-78.4],[1303,-77.8],[1312,-77],[1318,-75.5],[1322,-73.8],[1330,-73.2],[1345,-73.6],[1355,-73.9],[1365,-74.1],[1375,-74],[1385,-73.9],[1392,-73.5],[1398,-72.8],[1405,-71.7],[1411,-70.4],[1418,-68.8],[1425,-67.2],[1431,-66.3],[1438,-65.9],[1450,-65.5],[1464,-65.2],[1477,-64.9],[1487,-64.5],[1495,-64.3],[1503,-63.8],[1516,-62.9],[1529,-61.7],[1542,-60.4],[1555,-58.8],[1569,-57.2],[1582,-56],[1595,-55.5],[1608,-55.3],[1621,-55.6],[1634,-56.6],[1648,-58.3],[1661,-60.5],[1674,-62.9],[1687,-65],[1697,-66.5]]
];
const cOliveDots = [[952,-57.3],[955,-60],[958,-62],[961,-63.5],[964,-64.5],[968,-65.2],[976,-56.6],[977,-57.5],[978,-58.5],
  [1702,-67.2],[1708,-68.5],[1714,-67.6],[1720,-69.4],[1726,-68.1],[1732,-70.2],[1738,-69],[1744,-71.5],[1748,-70.3]];

// ---------- ticks ----------
const aXTicks = [1050, 1200, 1350, 1500, 1650];
const aXMinor = [1125, 1275, 1425, 1575];
const aYTicks = [-50, -55, -60, -65, -70, -75, -80, -85];
const aYMinor = [-52.5, -57.5, -62.5, -67.5, -72.5, -77.5, -82.5];
const bcXTicks = [1000, 1100, 1200, 1300, 1400, 1500, 1600, 1700];
const bcXMinor = [950, 1050, 1150, 1250, 1350, 1450, 1550, 1650, 1750];
const bcYTicks = [-50, -55, -60, -65, -70, -75, -80, -85, -90];
const bcYMinor = [-52.5, -57.5, -62.5, -67.5, -72.5, -77.5, -82.5, -87.5];

const C = {
  green: '#2fe02f', red: '#f01c1c', blue: '#1c1ce6', magenta: '#ff30ff',
  cyan: '#33f2f2', gray: '#878787', olive: '#8a8420',
  purple: '#9a38ee', orange: '#f28a1e', axis: '#222'
};
const SANS = '"Liberation Sans", Arial, sans-serif';
const SERIF = '"Liberation Serif", "Times New Roman", serif';

const svg = d3.select('#fig');

function richText(parent, x, y, size, weight, style, fill, parts, anchor) {
  const t = parent.append('text').attr('x', x).attr('y', y)
    .attr('font-size', size).attr('font-weight', weight).attr('font-style', style)
    .attr('fill', fill).attr('text-anchor', anchor || 'start');
  let shift = 0;
  parts.forEach(([s, k]) => {
    const target = k === 'sup' ? -0.42 * size : k === 'sub' ? 0.28 * size : 0;
    t.append('tspan').attr('dy', target - shift)
      .attr('font-size', k === 'n' ? size : size * 0.62).text(s);
    shift = target;
  });
  return t;
}

function drawPanel(p) {
  const x = d3.scaleLinear().domain(p.xDomain).range([p.left, p.right]);
  const y = d3.scaleLinear().domain(p.yDomain).range([p.bottom, p.top]);
  const g = svg.append('g');

  svg.append('clipPath').attr('id', 'clip-' + p.id).append('rect')
    .attr('x', p.left).attr('y', p.top)
    .attr('width', p.right - p.left).attr('height', p.bottom - p.top);
  const plot = g.append('g').attr('clip-path', `url(#clip-${p.id})`);

  const line = d3.line().x(d => x(d[0])).y(d => y(d[1])).curve(d3.curveCatmullRom);

  p.series.forEach(s => {
    plot.selectAll(null).data(s.dots).enter().append('circle')
      .attr('cx', d => x(d[0])).attr('cy', d => y(d[1]))
      .attr('r', 1.45).attr('fill', s.color);
    s.lines.forEach(seg => {
      plot.append('path').attr('d', line(seg))
        .attr('fill', 'none').attr('stroke', s.color)
        .attr('stroke-width', 2.6).attr('stroke-dasharray', '2.4 0.7');
    });
  });

  // frame
  g.append('path')
    .attr('d', `M${p.left},${p.top}H${p.right}V${p.bottom}`)
    .attr('fill', 'none').attr('stroke', C.axis).attr('stroke-width', 1.2);

  const styleAxis = sel => {
    sel.selectAll('path.domain').attr('stroke', C.axis).attr('stroke-width', 1.4);
    sel.selectAll('line').attr('stroke', C.axis).attr('stroke-width', 1.2);
    sel.selectAll('text').attr('fill', '#222').attr('font-size', p.tickFont)
      .attr('font-family', SANS);
  };

  g.append('g').attr('transform', `translate(0,${p.bottom})`)
    .call(d3.axisBottom(x).tickValues(p.xMinor).tickSize(3).tickFormat(''))
    .call(styleAxis);
  g.append('g').attr('transform', `translate(${p.left},0)`)
    .call(d3.axisLeft(y).tickValues(p.yMinor).tickSize(3).tickFormat(''))
    .call(styleAxis);
  g.append('g').attr('transform', `translate(0,${p.bottom})`)
    .call(d3.axisBottom(x).tickValues(p.xTicks).tickSize(6).tickPadding(p.xPad).tickFormat(d3.format('d')))
    .call(styleAxis);
  g.append('g').attr('transform', `translate(${p.left},0)`)
    .call(d3.axisLeft(y).tickValues(p.yTicks).tickSize(6).tickPadding(p.yPad).tickFormat(d => d))
    .call(styleAxis);

  // axis titles
  g.append('text').attr('x', p.xTitle[0]).attr('y', p.xTitle[1])
    .attr('text-anchor', 'middle').attr('font-weight', 'bold')
    .attr('font-size', p.titleFont).attr('fill', '#111').text('Wavelength, nm');
  g.append('text')
    .attr('transform', `translate(${p.yTitle[0]},${p.yTitle[1]}) rotate(-90)`)
    .attr('text-anchor', 'middle').attr('dy', '0.36em').attr('font-weight', 'bold')
    .attr('font-size', p.titleFont).attr('fill', '#111').text(p.yLabel);
  return g;
}

// ---- panel (a)
const gA = drawPanel({
  id: 'a', left: 386.7, right: 791.1, top: 14, bottom: 359.3,
  xDomain: [1050, 1700], yDomain: [-85, -50],
  xTicks: aXTicks, xMinor: aXMinor, yTicks: aYTicks, yMinor: aYMinor,
  tickFont: 14, xPad: 8, yPad: 4, titleFont: 18.5,
  xTitle: [589, 411.5], yTitle: [338, 188], yLabel: 'Emission spectral density, dBm',
  series: [
    { color: C.green, lines: aGreenLines, dots: aGreenDots },
    { color: C.red, lines: aRedLines, dots: aRedDots },
    { color: C.blue, lines: aBlueLines, dots: aBlueDots },
    { color: C.magenta, lines: aMagentaLines, dots: aMagentaDots }
  ]
});

richText(gA, 395, 41.5, 21, 'bold', 'italic', '#111', [['Cr,Er AGCYS fiber', 'n']]);
gA.append('text').attr('x', 737).attr('y', 57).attr('font-size', 44)
  .attr('font-family', SERIF).attr('fill', '#111').text('(a)');
richText(gA, 391, 81.5, 26, 'bold', 'normal', C.purple, [['Er', 'n'], ['3+', 'sup']]);
richText(gA, 648, 46.5, 26, 'bold', 'normal', C.purple, [['Er', 'n'], ['3+', 'sup']]);
richText(gA, 473, 222.5, 25, 'bold', 'normal', C.orange, [['Cr', 'n'], ['3+', 'sup']]);
richText(gA, 528, 222.5, 25, 'bold', 'normal', C.orange, [['Cr', 'n'], ['4+', 'sup']]);
gA.append('text').attr('x', 626).attr('y', 341).attr('font-size', 21.5).attr('fill', '#111').text('pump @905 nm');

// Cr arrows
const defs = svg.append('defs');
defs.append('marker').attr('id', 'arrow').attr('viewBox', '0 0 10 10')
  .attr('refX', 9).attr('refY', 5).attr('markerWidth', 5).attr('markerHeight', 5)
  .attr('orient', 'auto-start-reverse')
  .append('path').attr('d', 'M0,1L10,5L0,9Z').attr('fill', C.orange);
gA.append('line').attr('x1', 503).attr('y1', 229.5).attr('x2', 471).attr('y2', 229.5)
  .attr('stroke', C.orange).attr('stroke-width', 1.5).attr('marker-end', 'url(#arrow)');
gA.append('line').attr('x1', 524).attr('y1', 229.5).attr('x2', 564).attr('y2', 229.5)
  .attr('stroke', C.orange).attr('stroke-width', 1.5).attr('marker-end', 'url(#arrow)');

// legend (a)
const legColors = [C.green, C.red, C.blue, C.magenta];
const leg = gA.append('g');
leg.append('rect').attr('x', 455).attr('y', 57).attr('width', 157).attr('height', 128)
  .attr('fill', '#fff').attr('stroke', '#333').attr('stroke-width', 1);
aLegend.forEach((lab, i) => {
  const cy = 70.7 + i * 31.4;
  leg.append('circle').attr('cx', 478.5).attr('cy', cy).attr('r', 1.6).attr('fill', legColors[i]);
  richText(leg, 505, cy + 7.5, 18, 'bold', 'normal', '#111',
    [['L', 'n'], ['f', 'sub'], [' = ' + lab + ' cm', 'n']]);
});

// ---- panel (b)
const gB = drawPanel({
  id: 'b', left: 72.8, right: 496.8, top: 450.7, bottom: 795,
  xDomain: [950, 1750], yDomain: [-90, -50],
  xTicks: bcXTicks, xMinor: bcXMinor, yTicks: bcYTicks, yMinor: bcYMinor,
  tickFont: 14.2, xPad: 6, yPad: 6, titleFont: 21.5,
  xTitle: [285, 845], yTitle: [22, 617.5], yLabel: 'Emission power density, dBm',
  series: [
    { color: C.red, lines: bRedLines, dots: bRedDots },
    { color: C.green, lines: bGreenLines, dots: bGreenDots },
    { color: C.blue, lines: bBlueLines, dots: bBlueDots },
    { color: C.cyan, lines: bCyanLines, dots: bCyanDots },
    { color: C.magenta, lines: bMagentaLines, dots: bMagentaDots },
    { color: C.gray, lines: bGrayLines, dots: bGrayDots },
    { color: C.olive, lines: bOliveLines, dots: bOliveDots }
  ]
});
richText(gB, 97, 480, 22, 'bold', 'italic', '#111', [['Cr,Er AGCYS fiber', 'n']]);
richText(gB, 130, 504, 20.5, 'bold', 'normal', '#111', [['L', 'n'], ['f', 'sub'], [' = 58 cm', 'n']]);
gB.append('text').attr('x', 167).attr('y', 532).attr('font-size', 22).attr('fill', '#111').text('pump @905 nm');
gB.append('text').attr('x', 437).attr('y', 489).attr('font-size', 44)
  .attr('font-family', SERIF).attr('fill', '#111').text('(b)');

// ---- panel (c)
const gC = drawPanel({
  id: 'c', left: 690.8, right: 1094.3, top: 450.7, bottom: 795,
  xDomain: [950, 1750], yDomain: [-90, -50],
  xTicks: bcXTicks, xMinor: bcXMinor, yTicks: bcYTicks, yMinor: bcYMinor,
  tickFont: 13.5, xPad: 6.5, yPad: 5.5, titleFont: 20.5,
  xTitle: [893, 845], yTitle: [641, 617.5], yLabel: 'Emission power density, dBm',
  series: [
    { color: C.red, lines: cRedLines, dots: cRedDots },
    { color: C.green, lines: cGreenLines, dots: cGreenDots },
    { color: C.blue, lines: cBlueLines, dots: cBlueDots },
    { color: C.cyan, lines: cCyanLines, dots: cCyanDots },
    { color: C.magenta, lines: cMagentaLines, dots: cMagentaDots },
    { color: C.gray, lines: cGrayLines, dots: cGrayDots },
    { color: C.olive, lines: cOliveLines, dots: cOliveDots }
  ]
});
richText(gC, 713, 478, 21, 'bold', 'italic', '#111', [['Cr,Er AGCYS fiber', 'n']]);
richText(gC, 745, 504, 20.5, 'bold', 'normal', '#111', [['L', 'n'], ['f', 'sub'], [' = 371 cm', 'n']]);
gC.append('text').attr('x', 780).attr('y', 532).attr('font-size', 21.5).attr('fill', '#111').text('pump @905 nm');
gC.append('text').attr('x', 1042).attr('y', 492).attr('font-size', 44)
  .attr('font-family', SERIF).attr('fill', '#111').text('(c)');
</script>
</body>
</html>
